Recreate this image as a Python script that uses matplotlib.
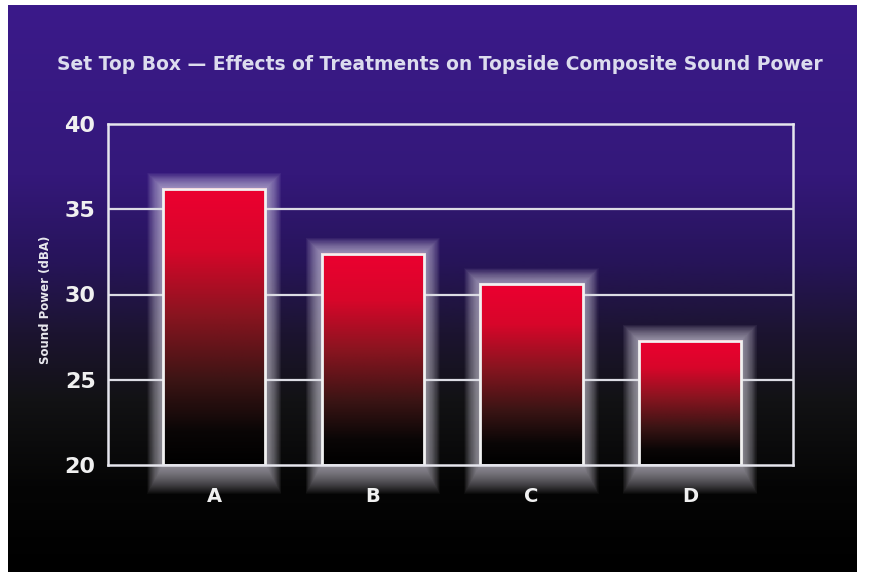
import matplotlib.pyplot as plt
import numpy as np
from matplotlib.colors import LinearSegmentedColormap
from matplotlib.patches import Rectangle

# data
categories = ['A', 'B', 'C', 'D']
sound_power = [36.2, 32.4, 30.6, 27.3]
y_ticks = [20, 25, 30, 35, 40]
title = 'Set Top Box \u2014 Effects of Treatments on Topside Composite Sound Power'
ylabel = 'Sound Power (dBA)'

FONT = ['DejaVu Sans']
W, H = 871, 575
fig = plt.figure(figsize=(W / 100, H / 100), dpi=100, facecolor='white')

# dark purple -> black backdrop
bg = fig.add_axes([8 / W, 3 / H, 848 / W, 567 / H])
bg_cmap = LinearSegmentedColormap.from_list('bg', [
    (0.0, '#3b1a8a'), (0.30, '#34187a'), (0.45, '#27145a'),
    (0.58, '#1c1430'), (0.70, '#121214'), (0.85, '#050505'), (1.0, '#000000')])
bg.imshow(np.linspace(0, 1, 256).reshape(-1, 1), aspect='auto', cmap=bg_cmap,
          extent=[0, 1, 0, 1], origin='upper')
bg.set_axis_off()

ax = fig.add_axes([108 / W, 1 - 465 / H, 685 / W, 341 / H])
ax.patch.set_alpha(0)
x = np.arange(len(categories))
width = 0.645

px_x = 685 / 4.32   # pixels per x unit
px_y = 341 / 20.0   # pixels per y unit

# horizontal grid lines
for t in y_ticks[1:-1]:
    ax.axhline(t, color='#dcdce4', lw=1.6, zorder=1)

# soft white glow behind each bar
bar_cmap = LinearSegmentedColormap.from_list('bar', [
    (0.0, '#000000'), (0.12, '#0a0606'), (0.30, '#3a1414'),
    (0.55, '#8c1420'), (0.78, '#d8062a'), (1.0, '#ec0030')])
for xi, v in zip(x, sound_power):
    for p in np.linspace(16, 1, 28):
        dx = p / px_x
        dy = p / px_y
        ax.add_patch(Rectangle((xi - width / 2 - dx, 20 - 1.8 * dy), width + 2 * dx,
                               v - 20 + 2.8 * dy, facecolor='#f4f0ff', edgecolor='none',
                               alpha=0.032, zorder=2, clip_on=False))
    ax.imshow(np.linspace(1, 0, 256).reshape(-1, 1), aspect='auto', cmap=bar_cmap,
              extent=[xi - width / 2, xi + width / 2, 20, v], origin='upper', zorder=3)
    ax.add_patch(Rectangle((xi - width / 2, 20), width, v - 20, facecolor='none',
                           edgecolor='#f2f2f2', lw=2, zorder=4))

ax.set_xlim(-0.67, 3.65)
ax.set_ylim(20, 40)

for s in ax.spines.values():
    s.set_color('#e6e6ee')
    s.set_linewidth(1.8)
    s.set_zorder(5)

ax.set_yticks(y_ticks)
ax.set_yticklabels([str(t) for t in y_ticks], fontsize=16, fontweight='bold',
                   color='#f0f0f0', family=FONT)
ax.set_xticks(x)
ax.set_xticklabels(categories, fontsize=14, fontweight='bold', color='#f0f0f0', family=FONT)
ax.tick_params(axis='both', length=0)
ax.tick_params(axis='y', pad=9)
ax.tick_params(axis='x', pad=16)

fig.text(45 / W, 1 - 300 / H, ylabel, rotation=90, ha='center', va='center',
         fontsize=8.5, fontweight='bold', color='#e8e8ee', family=FONT)
fig.text(440 / W, 1 - 64 / H, title, ha='center', va='center', fontsize=13.5,
         fontweight='bold', color='#dcdcee', family=FONT)

fig.savefig('out.png', dpi=100, facecolor='white')
